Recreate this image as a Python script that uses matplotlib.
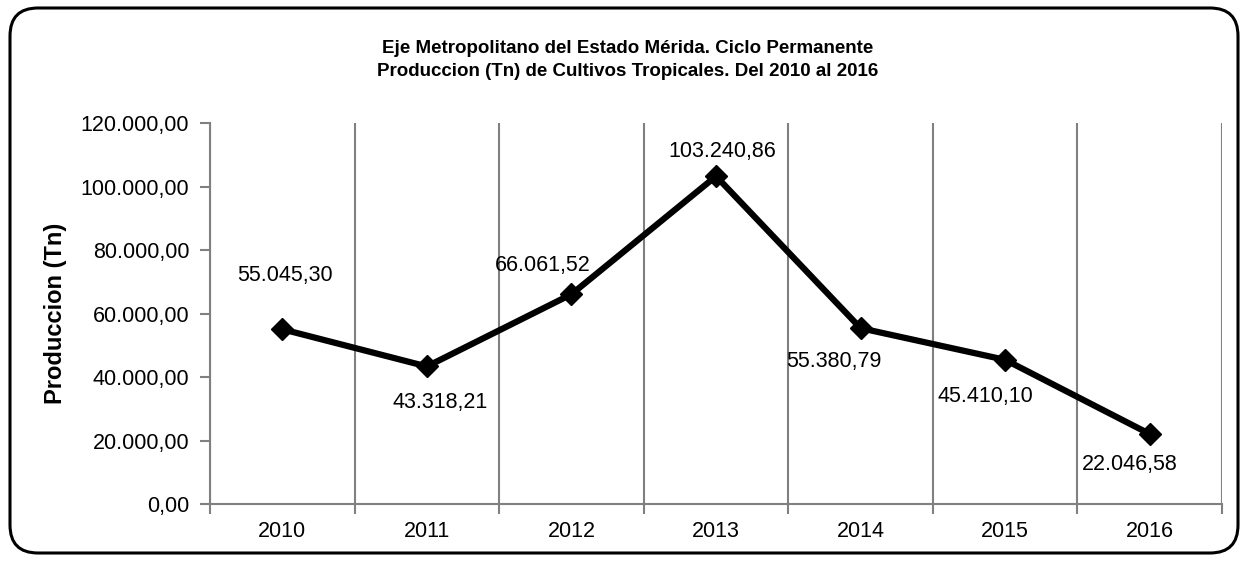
import numpy as np
import matplotlib.pyplot as plt
from matplotlib.patches import FancyBboxPatch
from matplotlib.transforms import IdentityTransform

plt.rcParams['font.family'] = ['Liberation Sans', 'DejaVu Sans']

# Datos
years = ['2010', '2011', '2012', '2013', '2014', '2015', '2016']
produccion = [55045.30, 43318.21, 66061.52, 103240.86, 55380.79, 45410.10, 22046.58]

# desplazamiento de las etiquetas (pixeles)
label_offsets = [(3, 54), (13, -36), (-29, 29), (6, 25), (-27, -33), (-20, -37), (-20, -30)]


def fmt(v):
    s = f"{v:,.2f}"
    return s.replace(",", "X").replace(".", ",").replace("X", ".")


fig = plt.figure(figsize=(12.47, 5.61), dpi=100)
ax = fig.add_axes([0.1684, 0.1016, 0.98 - 0.1684, 0.7807 - 0.1016])

x = np.arange(len(years))
ax.plot(x, produccion, color='black', lw=4.5, marker='D', markersize=11, zorder=3)

for xi, v, (dx, dy) in zip(x, produccion, label_offsets):
    ax.annotate(fmt(v), (xi, v), xytext=(dx, dy), textcoords='offset pixels',
                ha='center', va='center', fontsize=15.5)

ax.set_xlim(-0.5, len(years) - 0.5)
ax.set_ylim(0, 120000)
ax.set_yticks(np.arange(0, 120001, 20000))
ax.set_yticklabels([fmt(v) for v in np.arange(0, 120001, 20000)], fontsize=15.5)
ax.set_xticks(x)
ax.set_xticklabels(years, fontsize=15.5)
ax.set_xticks(np.arange(-0.5, len(years)), minor=True)
ax.tick_params(axis='x', which='major', length=0, pad=12)
ax.tick_params(axis='x', which='minor', length=7, width=1.5, color='#808080')
ax.tick_params(axis='y', length=7, width=1.5, color='#808080', pad=8)
ax.grid(axis='x', which='minor', color='#808080', lw=1.5)

for s in ['top', 'right']:
    ax.spines[s].set_visible(False)
for s in ['left', 'bottom']:
    ax.spines[s].set_color('#808080')
    ax.spines[s].set_linewidth(1.5)

ax.set_ylabel('Produccion (Tn)', fontsize=17, fontweight='bold', labelpad=10)

fig.text(0.503, 0.893, 'Eje Metropolitano del Estado Mérida. Ciclo Permanente\n'
         'Produccion (Tn) de Cultivos Tropicales. Del 2010 al 2016',
         ha='center', va='center', fontsize=13.5, fontweight='bold', linespacing=1.45)

box = FancyBboxPatch((10, 8), 1228, 545, boxstyle='round,pad=0,rounding_size=28',
                     transform=IdentityTransform(), fill=False, ec='black', lw=2.2)
fig.patches.append(box)

fig.savefig('out.png', dpi=100)
